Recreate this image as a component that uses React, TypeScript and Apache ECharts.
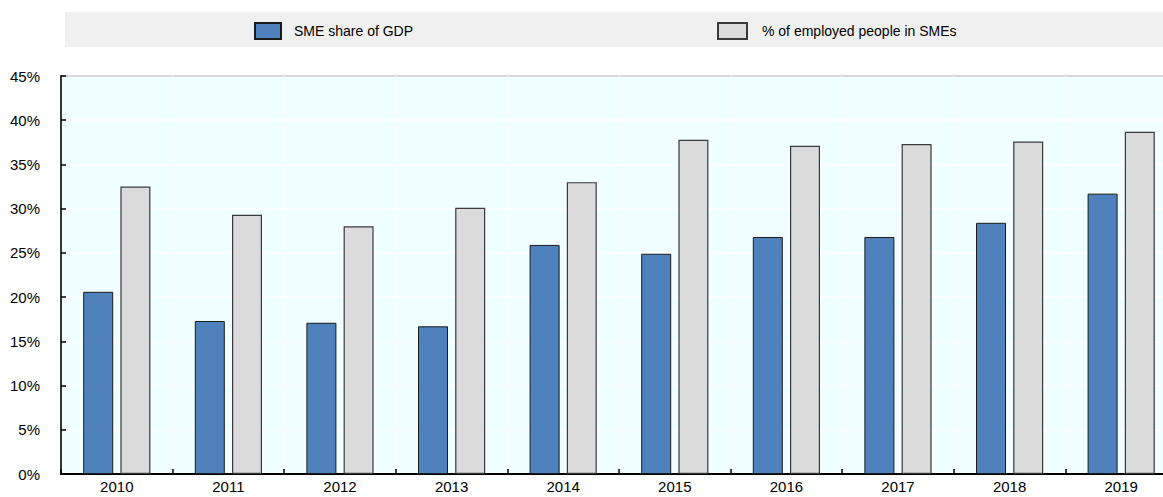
import React, { useEffect, useRef } from "react";
import * as echarts from "echarts";

const years = ["2010", "2011", "2012", "2013", "2014", "2015", "2016", "2017", "2018", "2019"];
const smeShareGdp = [20.6, 17.3, 17.1, 16.7, 25.9, 24.9, 26.8, 26.8, 28.4, 31.7];
const employedInSmes = [32.5, 29.3, 28.0, 30.1, 33.0, 37.8, 37.1, 37.3, 37.6, 38.7];
const seriesNames = ["SME share of GDP", "% of employed people in SMEs"];

const FONT = "'Liberation Sans', Arial, sans-serif";

export default function App() {
  const ref = useRef<HTMLDivElement>(null);
  useEffect(() => {
    if (!ref.current) return;
    const chart = echarts.init(ref.current, undefined, { renderer: "svg" });
    chart.setOption({
      animation: false,
      graphic: [
        {
          type: "rect",
          z: -10,
          shape: { x: 65, y: 12, width: 1120, height: 35 },
          style: { fill: "#F0F0F0" },
          silent: true,
        },
      ],
      legend: [
        {
          data: [seriesNames[0]],
          left: 254,
          top: 22,
          padding: 0,
          itemWidth: 26,
          itemHeight: 16,
          icon: "rect",
          textStyle: { fontFamily: FONT, fontSize: 14, color: "#000", padding: [0, 0, 0, 8] },
        },
        {
          data: [seriesNames[1]],
          left: 717,
          top: 22,
          padding: 0,
          itemWidth: 29,
          itemHeight: 16,
          icon: "rect",
          textStyle: { fontFamily: FONT, fontSize: 14, color: "#000", padding: [0, 0, 0, 10] },
        },
      ],
      grid: {
        left: 61,
        top: 76,
        right: 3,
        bottom: 23,
        show: true,
        backgroundColor: "#F0FFFF",
        borderColor: "#333",
        borderWidth: 1.5,
        containLabel: false,
      },
      xAxis: {
        type: "category",
        data: years,
        axisLine: { show: true, lineStyle: { color: "#000", width: 2 } },
        axisTick: { show: true, inside: true, length: 5, alignWithLabel: false, lineStyle: { color: "#000", width: 1.5 } },
        axisLabel: { fontFamily: FONT, fontSize: 15, color: "#000", margin: 5 },
        splitLine: { show: true, lineStyle: { color: "#FFFFFF", width: 1.5 } },
      },
      yAxis: {
        type: "value",
        min: 0,
        max: 45,
        interval: 5,
        axisLine: { show: true, lineStyle: { color: "#000", width: 1.5 } },
        axisTick: { show: true, inside: true, length: 5, lineStyle: { color: "#000", width: 1.5 } },
        axisLabel: { fontFamily: FONT, fontSize: 15, color: "#000", margin: 21, formatter: "{value}%" },
        splitLine: { show: true, lineStyle: { color: "#FFFFFF", width: 1.5 } },
      },
      series: [
        {
          name: seriesNames[0],
          type: "bar",
          data: smeShareGdp,
          barWidth: 30,
          barGap: "24%",
          itemStyle: { color: "#4F81BD", borderColor: "#1A1A1A", borderWidth: 1 },
        },
        {
          name: seriesNames[1],
          type: "bar",
          data: employedInSmes,
          barWidth: 30,
          barGap: "24%",
          itemStyle: { color: "#DBDBDB", borderColor: "#3A3A3A", borderWidth: 1.2 },
        },
      ],
    });
    return () => chart.dispose();
  }, []);
  return (
    <div
      ref={ref}
      style={{ position: "fixed", left: 0, top: 0, width: 1180, height: 497, background: "#fff" }}
    />
  );
}
